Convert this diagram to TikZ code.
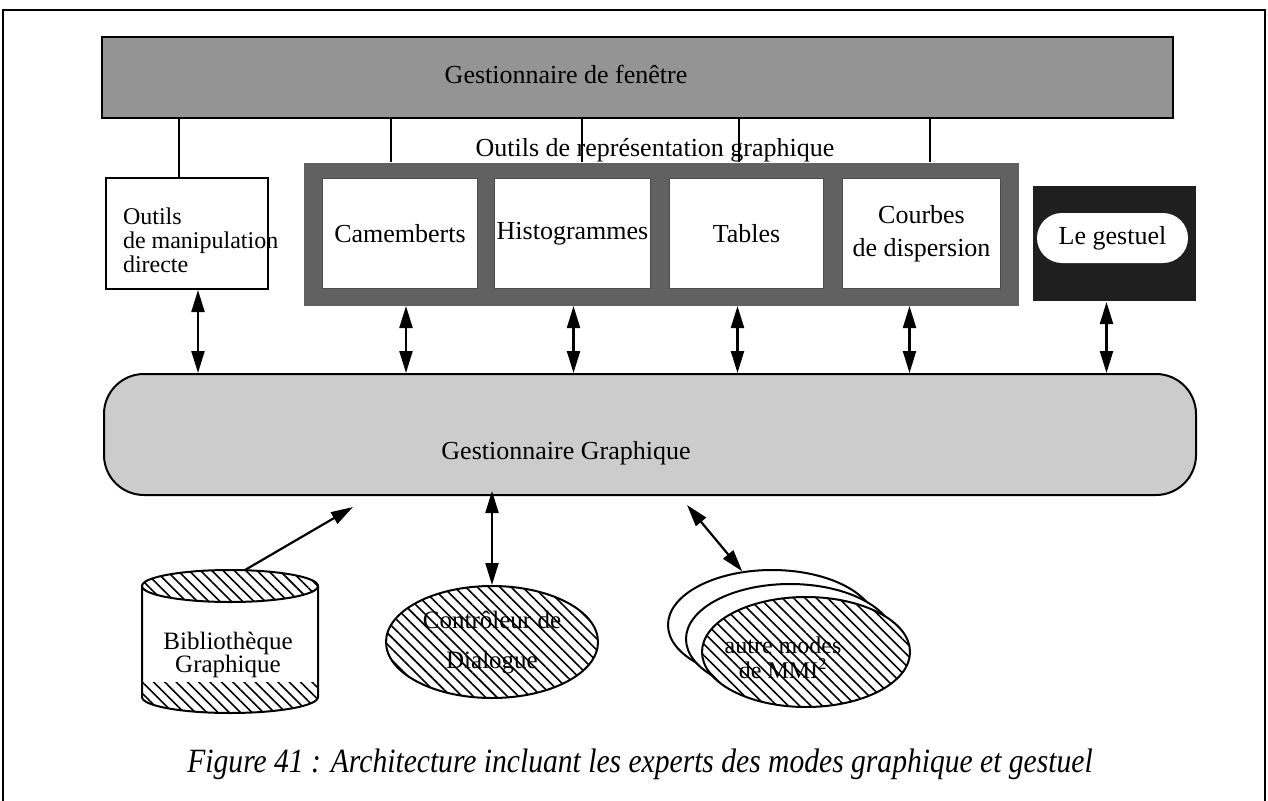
\documentclass[tikz,border=0pt]{standalone}
\usepackage{fontspec}
\usepackage{graphicx}
\setmainfont{Liberation Serif}
\usetikzlibrary{arrows.meta,patterns.meta,shapes.geometric,calc}
\begin{document}
\begin{tikzpicture}[x=1pt,y=-1pt,line width=2pt,
  lbl/.style={font=\fontsize{26}{28}\selectfont, inner sep=0pt},
  hatch/.style={pattern={Lines[angle=-45,distance=8pt,line width=1.6pt]}},
  dbl/.style={line width=2.2pt,{Triangle[length=22pt,width=13pt]}-{Triangle[length=22pt,width=13pt]}},
  sgl/.style={line width=2.2pt,-{Triangle[length=22pt,width=13pt]}},
  ibox/.style={draw=black!70,line width=1pt,fill=white,anchor=north west,minimum height=110pt,inner sep=0pt,font=\fontsize{26}{33}\selectfont,align=center}]
\useasboundingbox (0,0) rectangle (1268,800);
% outer frame
\draw (3,810) -- (3,10) -- (1265,10) -- (1265,810);
% top bar
\node[draw,fill=black!42,minimum width=1071pt,minimum height=81pt,anchor=north west] (bar) at (101,36) {};
\node[lbl] (bartxt) at (566,74) {Gestionnaire de fenêtre};
% outils manipulation
\node[draw,fill=white,minimum width=162pt,minimum height=111pt,anchor=north west] (outils) at (105,177) {};
\node[anchor=west,inner sep=0pt,align=left,font=\fontsize{24}{24}\selectfont] (outilstxt) at (122,240) {Outils\\de manipulation\\directe};
% group frame
\node[fill=black!62,minimum width=715pt,minimum height=143pt,anchor=north west,inner sep=0pt] (grp) at (303,162) {};
\node[lbl] (grptxt) at (655,150) {Outils de représentation graphique};
\node[ibox,minimum width=155pt] (cam) at (322,178) {Camemberts};
\node[ibox,minimum width=156pt] (hist) at (494,178) {Histogrammes};
\node[ibox,minimum width=154pt] (tab) at (669,178) {Tables};
\node[ibox,minimum width=158pt] (cour) at (842,178) {Courbes\\de dispersion};
% gestuel
\node[fill=black!88,minimum width=163pt,minimum height=115pt,anchor=north west,inner sep=0pt] (gest) at (1032,185) {};
\node[lbl,fill=white,rounded corners=25pt,minimum width=151pt,minimum height=50pt] (pill) at (1112.5,238) {Le gestuel};
% lines from bar
\draw ([xshift=-8pt]outils.north) -- ([xshift=-8pt]outils.north |- bar.south);
\draw ([xshift=-270.5pt]grp.north) -- ([xshift=-270.5pt]grp.north |- bar.south);
\draw ([xshift=-79.5pt]grp.north) -- ([xshift=-79.5pt]grp.north |- bar.south);
\draw ([xshift=77.5pt]grp.north) -- ([xshift=77.5pt]grp.north |- bar.south);
\draw ([xshift=268.5pt]grp.north) -- ([xshift=268.5pt]grp.north |- bar.south);
% gestionnaire graphique
\node[draw,fill=black!20,rounded corners=40pt,minimum width=1092pt,minimum height=121pt] (gg) at (650,434.5) {};
\node[lbl] (ggtxt) at (566,453) {Gestionnaire Graphique};
% arrows up
\draw[dbl] ([xshift=11pt]outils.south) -- ([xshift=11pt]outils.south |- gg.north);
\draw[dbl] ([xshift=6pt,yshift=-17pt]cam.south) -- ([xshift=6pt]cam.south |- gg.north);
\draw[dbl] ([xshift=1pt,yshift=-17pt]hist.south) -- ([xshift=1pt]hist.south |- gg.north);
\draw[dbl] ([xshift=-9pt,yshift=-17pt]tab.south) -- ([xshift=-9pt]tab.south |- gg.north);
\draw[dbl] ([xshift=-12pt,yshift=-17pt]cour.south) -- ([xshift=-12pt]cour.south |- gg.north);
\draw[dbl] ([xshift=-8pt]gest.south) -- ([xshift=-8pt]gest.south |- gg.north);
% cylinder
\fill[hatch] (142,682) -- (318,682) -- (318,697) arc[start angle=0,end angle=180,x radius=88,y radius=16] -- cycle;
\draw (142,586) -- (142,697) arc[start angle=180,end angle=0,x radius=88,y radius=16] -- (318,586);
\draw[hatch,preaction={fill=white}] (230,586) ellipse [x radius=88,y radius=16];
\node[inner sep=0pt,align=center,font=\fontsize{25}{23}\selectfont] (cyl) at (228,655) {Bibliothèque\\Graphique};
\coordinate (cyltop) at (245,570);
\coordinate (cyltip) at (353,507);
\draw[sgl] (cyltop) -- (cyltip);
% controleur
\node[ellipse,draw,hatch,preaction={fill=white},minimum width=212pt,minimum height=112pt,inner sep=0pt,align=center,font=\fontsize{25}{40}\selectfont] (ctrl) at (492,642) {Contrôleur de\\Dialogue};
\draw[dbl] (ctrl.north) -- ([yshift=5pt]ctrl.north |- gg.south);
% autres modes
\node[ellipse,draw,fill=white,minimum width=208pt,minimum height=110pt] (am1) at (772,625) {};
\node[ellipse,draw,fill=white,minimum width=208pt,minimum height=110pt] (am2) at (790,639) {};
\node[ellipse,draw,hatch,preaction={fill=white},minimum width=208pt,minimum height=110pt] (am3) at (806,652) {};
\node[inner sep=0pt,align=center,font=\fontsize{24}{25}\selectfont] (amtxt) at (783,658) {autre modes\\de MMI\textsuperscript{2}};
\coordinate (amtail) at (687,505);
\draw[dbl] (amtail) -- (am1.119);
% caption
\node[font=\itshape\fontsize{34}{36}\selectfont,inner sep=0pt] (cap) at (640,764) {\scalebox{0.87}[1]{Figure 41 : Architecture incluant les experts des modes graphique et gestuel}};
\end{tikzpicture}
\end{document}
